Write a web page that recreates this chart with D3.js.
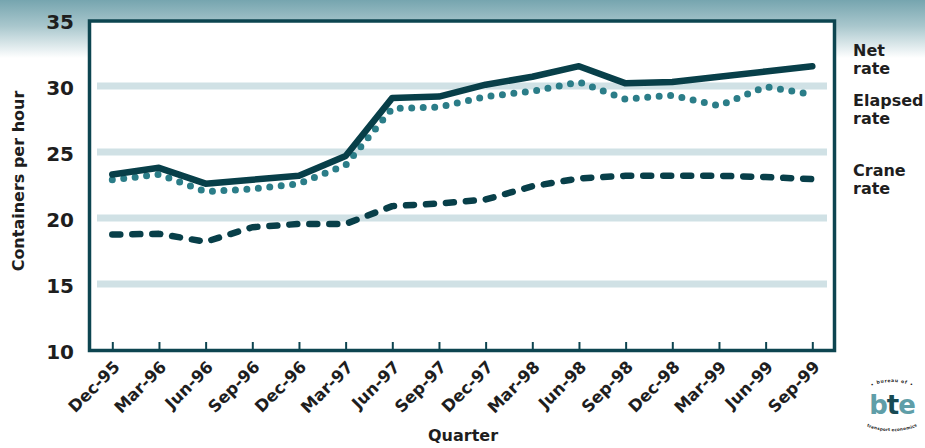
<!DOCTYPE html>
<html>
<head>
<meta charset="utf-8">
<script src="https://cdn.jsdelivr.net/npm/d3@7/dist/d3.min.js"></script>
<style>
  html, body { margin: 0; padding: 0; background: #fff; }
  svg { display: block; }
  text { font-family: "DejaVu Sans", sans-serif; font-weight: bold; fill: #1e1e1e; }
</style>
</head>
<body>
<svg id="chart" width="925" height="448"></svg>
<script>
// Quarterly container handling rates
const quarters = ["Dec-95","Mar-96","Jun-96","Sep-96","Dec-96","Mar-97","Jun-97","Sep-97",
                  "Dec-97","Mar-98","Jun-98","Sep-98","Dec-98","Mar-99","Jun-99","Sep-99"];
const netRate     = [23.3, 23.8, 22.6, 22.9, 23.2, 24.7, 29.1, 29.2, 30.1, 30.7, 31.5, 30.2, 30.3, 30.7, 31.1, 31.5];
const elapsedRate = [22.9, 23.3, 22.0, 22.2, 22.6, 24.0, 28.3, 28.4, 29.2, 29.6, 30.3, 29.0, 29.3, 28.5, 29.95, 29.35];
const craneRate   = [18.75, 18.8, 18.2, 19.3, 19.55, 19.55, 20.9, 21.1, 21.4, 22.4, 23.0, 23.2, 23.2, 23.2, 23.1, 22.95];
const yTicks = [10, 15, 20, 25, 30, 35];
const gridValues = [15, 20, 25, 30];
const seriesNames = [["Net", "rate"], ["Elapsed", "rate"], ["Crane", "rate"]];

const svg = d3.select("#chart");
const dark = "#083f49", teal = "#2b7d88", band = "#d0e1e5";

// header wash
const defs = svg.append("defs");
const grad = defs.append("linearGradient").attr("id", "wash")
  .attr("x1", 0).attr("y1", 0).attr("x2", 0).attr("y2", 1);
grad.append("stop").attr("offset", "0%").attr("stop-color", "#76a5af");
grad.append("stop").attr("offset", "45%").attr("stop-color", "#a9c7cd");
grad.append("stop").attr("offset", "100%").attr("stop-color", "#ffffff");
svg.append("rect").attr("x", 0).attr("y", 0).attr("width", 925).attr("height", 58)
  .attr("fill", "url(#wash)");

const x = d3.scalePoint().domain(quarters).range([112.3, 812.3]);
const y = d3.scaleLinear().domain([10, 35]).range([350, 20]);

// plot area
svg.append("rect").attr("x", 89.5).attr("y", y(35)).attr("width", 745)
  .attr("height", y(10) - y(35)).attr("fill", "#fff");

// horizontal bands
svg.append("g").selectAll("rect").data(gridValues).join("rect")
  .attr("x", 97).attr("width", 730)
  .attr("y", d => y(d) - 3.5).attr("height", 7)
  .attr("fill", band);

// line generator shared by the three series
const line = d3.line().x((d, i) => x(quarters[i])).y(d => y(d));

svg.append("path").datum(craneRate).attr("d", line)
  .attr("fill", "none").attr("stroke", dark).attr("stroke-width", 6.5)
  .attr("stroke-linecap", "round").attr("stroke-linejoin", "round")
  .attr("stroke-dasharray", "8 12");

svg.append("path").datum(elapsedRate).attr("d", line)
  .attr("fill", "none").attr("stroke", teal).attr("stroke-width", 7)
  .attr("stroke-linecap", "round").attr("stroke-linejoin", "round")
  .attr("stroke-dasharray", "0 11.5");

svg.append("path").datum(netRate).attr("d", line)
  .attr("fill", "none").attr("stroke", dark).attr("stroke-width", 6.5)
  .attr("stroke-linecap", "round").attr("stroke-linejoin", "round");

// frame
svg.append("rect").attr("x", 89.5).attr("y", 21).attr("width", 745).attr("height", 329.5)
  .attr("fill", "none").attr("stroke", "#0d4550").attr("stroke-width", 3.5);

// x axis: inward ticks, rotated labels
const xAxis = d3.axisBottom(x).tickSizeInner(-9).tickSizeOuter(0).tickPadding(0);
const gx = svg.append("g").attr("transform", "translate(0,351)").call(xAxis);
gx.select(".domain").remove();
gx.selectAll(".tick line").attr("stroke", "#0d4550").attr("stroke-width", 2);
gx.selectAll(".tick text")
  .attr("fill", "#1e1e1e").attr("font-size", 16.5).attr("font-family", "DejaVu Sans")
  .attr("text-anchor", "end").attr("dy", null).attr("y", null)
  .attr("transform", "translate(8,17) rotate(-45)");

// y axis labels
const yAxis = d3.axisLeft(y).tickValues(yTicks).tickSize(0).tickPadding(0);
const gy = svg.append("g").attr("transform", "translate(74,0)").call(yAxis);
gy.select(".domain").remove();
gy.selectAll(".tick text")
  .attr("fill", "#1e1e1e").attr("font-size", 20).attr("font-family", "DejaVu Sans")
  .attr("dy", "0.42em");

// axis titles
svg.append("text").attr("transform", "translate(24,181) rotate(-90)")
  .attr("text-anchor", "middle").attr("font-size", 16).text("Containers per hour");
svg.append("text").attr("x", 463).attr("y", 441)
  .attr("text-anchor", "middle").attr("font-size", 16).text("Quarter");

// series labels at right
const labelTops = [56, 106, 176];
seriesNames.forEach((lines, i) => {
  const t = svg.append("text").attr("x", 853).attr("y", labelTops[i]).attr("font-size", 16);
  lines.forEach((s, j) => t.append("tspan").attr("x", 853).attr("dy", j ? 18 : 0).text(s));
});

// agency mark
const logo = svg.append("g").attr("transform", "translate(892,406)");
defs.append("path").attr("id", "arcTop").attr("d", "M -22,-16 A 22,8 0 0 1 22,-16");
defs.append("path").attr("id", "arcBot").attr("d", "M -34,6 A 34,16 0 0 0 34,6");
logo.append("text").attr("font-size", 4.5).attr("fill", "#3c5f66").attr("font-weight", "normal")
  .attr("letter-spacing", 0.6)
  .append("textPath").attr("href", "#arcTop").attr("startOffset", "50%")
  .attr("text-anchor", "middle").text("• bureau of •");
logo.append("text").attr("font-size", 4.2).attr("fill", "#3c5f66").attr("font-weight", "normal")
  .append("textPath").attr("href", "#arcBot").attr("startOffset", "50%")
  .attr("text-anchor", "middle").attr("dominant-baseline", "hanging").text("transport economics");
const bte = logo.append("text").attr("y", 8).attr("text-anchor", "middle")
  .attr("font-size", 26).attr("font-family", "DejaVu Sans").attr("letter-spacing", -1);
bte.append("tspan").attr("fill", "#5f9ea8").text("b");
bte.append("tspan").attr("fill", "#174a54").text("t");
bte.append("tspan").attr("fill", "#5f9ea8").text("e");
</script>
</body>
</html>
